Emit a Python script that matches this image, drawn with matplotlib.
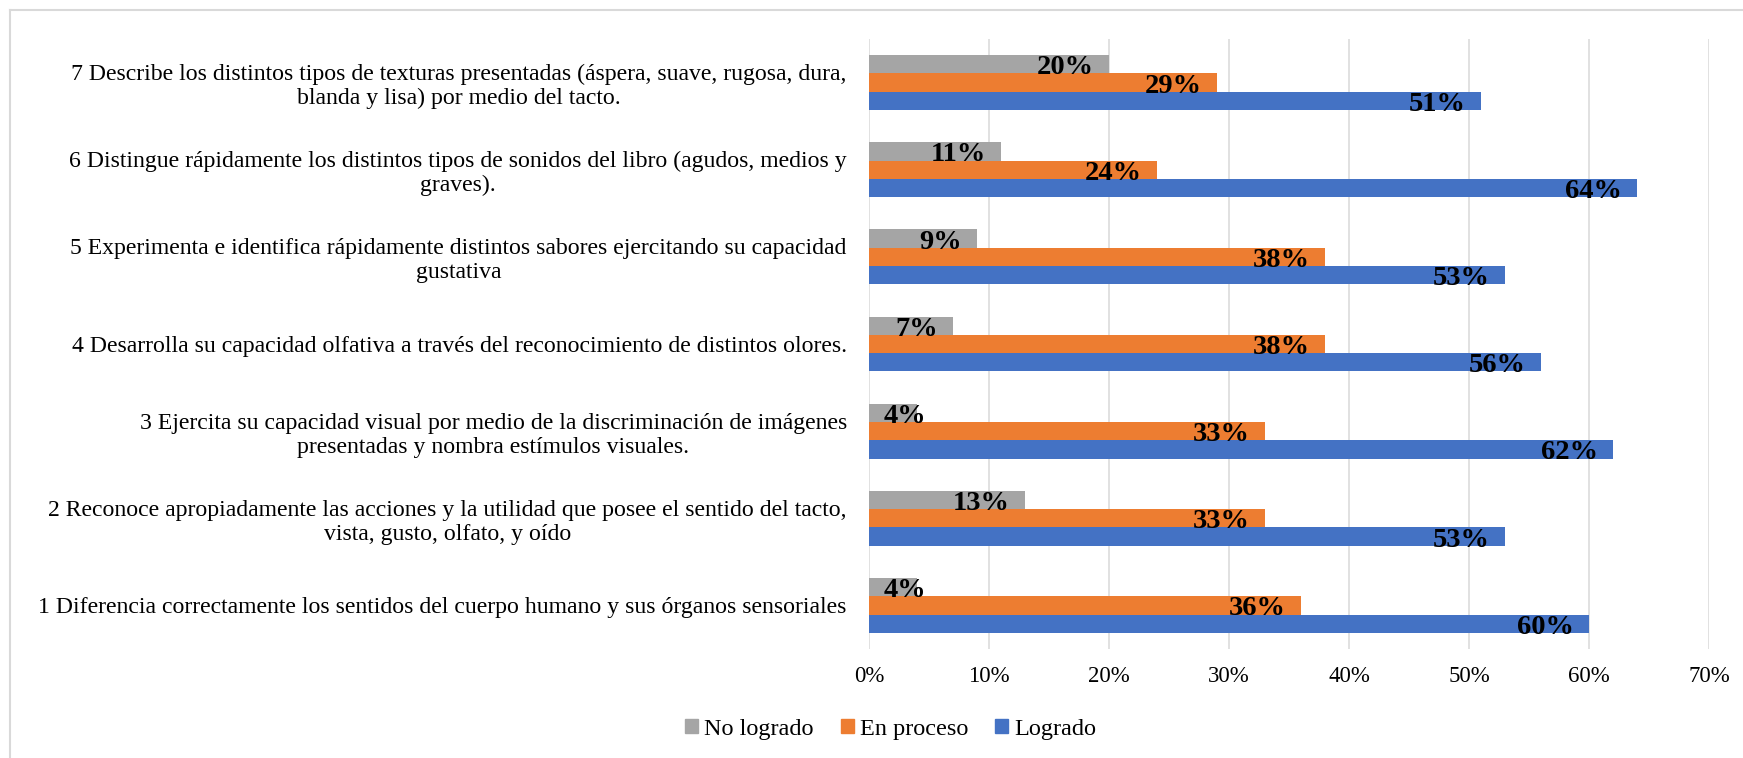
import matplotlib.pyplot as plt
import numpy as np
from matplotlib.patches import Patch
from matplotlib.lines import Line2D

plt.rcParams['font.family'] = ['Liberation Serif', 'DejaVu Serif']

categorias = [
    "1 Diferencia correctamente los sentidos del cuerpo humano y sus órganos sensoriales",
    "2 Reconoce apropiadamente las acciones y la utilidad que posee el sentido del tacto,\nvista, gusto, olfato, y oído",
    "3 Ejercita su capacidad visual por medio de la discriminación de imágenes\npresentadas y nombra estímulos visuales.",
    "4 Desarrolla su capacidad olfativa a través del reconocimiento de distintos olores.",
    "5 Experimenta e identifica rápidamente distintos sabores ejercitando su capacidad\ngustativa",
    "6 Distingue rápidamente los distintos tipos de sonidos del libro (agudos, medios y\ngraves).",
    "7 Describe los distintos tipos de texturas presentadas (áspera, suave, rugosa, dura,\nblanda y lisa) por medio del tacto.",
]
no_logrado = [0.04, 0.13, 0.04, 0.07, 0.09, 0.11, 0.20]
en_proceso = [0.36, 0.33, 0.33, 0.38, 0.38, 0.24, 0.29]
logrado = [0.60, 0.53, 0.62, 0.56, 0.53, 0.64, 0.51]
series = ["No logrado", "En proceso", "Logrado"]
colores = ["#A5A5A5", "#ED7D31", "#4472C4"]

fig = plt.figure(figsize=(17.43, 7.58), dpi=100)
ax = fig.add_axes([0.4986, 0.1438, 0.4819, 0.8047])

y = np.arange(len(categorias))
h = 0.21
offsets = [h, 0, -h]
for vals, off, col, nombre in zip([no_logrado, en_proceso, logrado], offsets, colores, series):
    bars = ax.barh(y + off, vals, height=h, color=col, label=nombre, zorder=2)
    for b, v in zip(bars, vals):
        yc = b.get_y() + b.get_height() / 2
        if v < 0.05:
            ax.annotate(f"{v:.0%}", (0, yc), xytext=(10.5, -2.5), textcoords="offset points",
                        ha="left", va="center", fontsize=20.5, fontweight="bold", zorder=3)
        else:
            ax.annotate(f"{v:.0%}", (v, yc), xytext=(-11, -2.5), textcoords="offset points",
                        ha="right", va="center", fontsize=20.5, fontweight="bold", zorder=3)

ax.set_xlim(0, 0.70)
ax.set_ylim(-0.5, len(categorias) - 0.5)
ax.set_xticks(np.arange(0, 0.71, 0.1))
ax.set_xticklabels([f"{t:.0%}" for t in np.arange(0, 0.71, 0.1)], fontsize=16.5)
ax.set_yticks(y)
ax.set_yticklabels(categorias, fontsize=17.1, multialignment="center", linespacing=1.18)
ax.tick_params(axis="x", length=0, pad=12)
ax.tick_params(axis="y", length=0, pad=16)
ax.grid(axis="x", color="#D9D9D9", linewidth=1.1, zorder=0)
for s in ax.spines.values():
    s.set_visible(False)

# borde del área del gráfico
fig.add_artist(Line2D([10 / 1743, 1], [1 - 10 / 758, 1 - 10 / 758], color="#D9D9D9", lw=1.5, transform=fig.transFigure))
fig.add_artist(Line2D([10 / 1743, 10 / 1743], [0, 1 - 10 / 758], color="#D9D9D9", lw=1.5, transform=fig.transFigure))

handles = [Patch(color=c, label=n) for c, n in zip(colores, series)]
fig.legend(handles=handles, loc="center", bbox_to_anchor=(0.511, 1 - 729 / 758), ncol=3,
           frameon=False, fontsize=17.5, handlelength=0.55, handleheight=0.55,
           handletextpad=0.25, columnspacing=1.1)

plt.savefig("out.png", dpi=100)
